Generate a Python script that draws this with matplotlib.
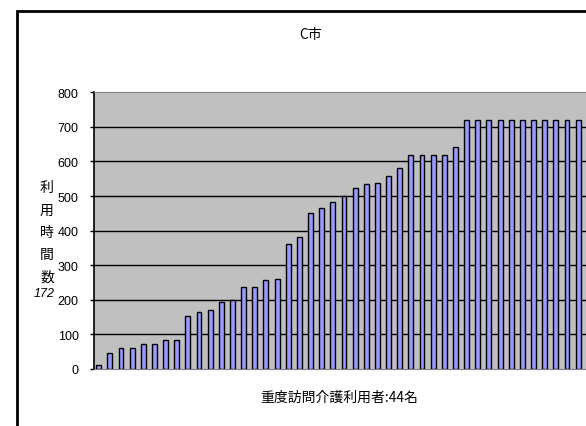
import matplotlib
matplotlib.use('Agg')
import matplotlib.pyplot as plt
from matplotlib.patches import Rectangle

# 利用時間数（44名分）
hours = [12, 47, 61, 61, 71, 71, 84, 84, 153, 165, 170, 193, 200, 238, 238,
         257, 261, 360, 383, 452, 465, 482, 499, 522, 534, 539, 558, 581,
         620, 620, 620, 620, 643,
         720, 720, 720, 720, 720, 720, 720, 720, 720, 720, 720]
users = list(range(len(hours)))
y_ticks = [0, 100, 200, 300, 400, 500, 600, 700, 800]

title = 'C市'
xlabel = '重度訪問介護利用者:44名'
ylabel_chars = ['利', '用', '時', '間', '数']
side_note = '172'

plt.rcParams['font.family'] = ['Noto Sans CJK JP', 'DejaVu Sans']

W, H = 586, 427
fig = plt.figure(figsize=(W / 100, H / 100), dpi=100)

# 外枠
fig.patches.append(Rectangle((17 / W, -0.1), 1.2, (H - 11.5) / H + 0.1,
                             transform=fig.transFigure, fill=False,
                             edgecolor='black', linewidth=2))

left, right, top, bottom = 94, 586, 93.3, 370
ax = fig.add_axes([left / W, (H - bottom) / H, (right - left) / W, (bottom - top) / H])
ax.set_facecolor('#C0C0C0')

ax.bar(users, hours, width=0.44, color='#9999FF', edgecolor='black',
       linewidth=1.0, zorder=3)

ax.set_ylim(0, 800)
ax.set_xlim(-0.42, -0.42 + (right - left) / 11.15)
ax.set_yticks(y_ticks)
ax.set_xticks([])
for y in y_ticks[1:-1]:
    ax.axhline(y, color='black', linewidth=1, zorder=1)

for side in ['top', 'bottom']:
    ax.spines[side].set_color('#808080')
ax.spines['right'].set_visible(False)
ax.spines['left'].set_color('black')
ax.spines['left'].set_linewidth(1.2)
ax.tick_params(axis='y', length=3, width=1, direction='out', pad=8,
               labelsize=9)
for lbl in ax.get_yticklabels():
    lbl.set_fontfamily('Liberation Sans')

fig.text(311 / W, 1 - 35 / H, title, ha='center', va='center', fontsize=10)
fig.text(339 / W, 1 - 398 / H, xlabel, ha='center', va='center', fontsize=10)
for i, ch in enumerate(ylabel_chars):
    fig.text(47 / W, 1 - (188 + 22.3 * i) / H, ch, ha='center', va='center',
             fontsize=10)
fig.text(44 / W, 1 - 294 / H, side_note, ha='center', va='center',
         fontsize=9, style='italic', family='Liberation Sans')

fig.savefig('out.png', dpi=100)
